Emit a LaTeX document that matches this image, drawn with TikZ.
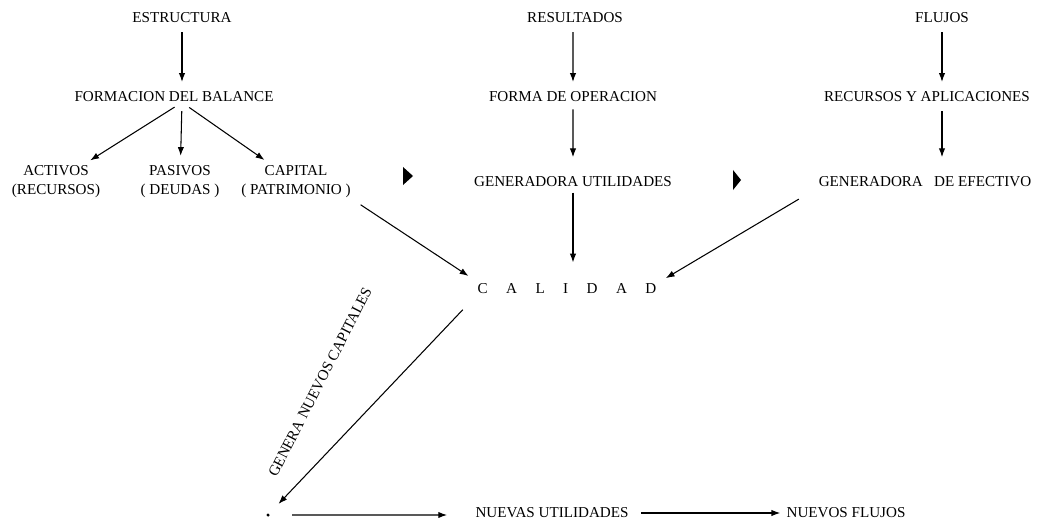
\documentclass[tikz,border=0pt]{standalone}
\usepackage{fontspec}
\setmainfont{Liberation Serif}
\usepackage{tikz}
\usetikzlibrary{positioning,arrows.meta}
\newcommand{\calsep}{\hspace{10.5pt}}

\begin{document}
\begin{tikzpicture}[scale=0.2,
  font=\fontsize{8.6}{10.8}\selectfont,
  flecha/.style={-{Latex[length=5pt,width=3.6pt]}, line width=0.6pt, shorten <=5pt, shorten >=5.5pt},
  marca/.style={fill=black}]
\tikzstyle{every node}+=[inner sep=0pt]
\useasboundingbox (0,0) rectangle (104.1,-52.2);
% columna estructura
\node (estructura) at (18.2,-1.8) {ESTRUCTURA};
\node (balance) at (17.4,-9.7) {FORMACION\ DEL\ BALANCE};
\node[align=center] (activos) at (5.6,-18.2) {ACTIVOS\\(RECURSOS)};
\node[align=center] (pasivos) at (18.0,-18.2) {PASIVOS\\( DEUDAS )};
\node[align=center] (capital) at (29.6,-18.2) {CAPITAL\\( PATRIMONIO )};
% columna resultados
\node (resultados) at (57.5,-1.8) {RESULTADOS};
\node (operacion) at (57.3,-9.7) {FORMA\ DE\ OPERACION};
\node (utilidades) at (57.3,-18.2) {GENERADORA\ UTILIDADES};
% columna flujos
\node (flujos) at (94.2,-1.8) {FLUJOS};
\node (aplicaciones) at (92.7,-9.7) {RECURSOS\ Y\ APLICACIONES};
\node (efectivo) at (92.5,-18.2) {GENERADORA\ \ \ DE\ EFECTIVO};
% centro y abajo
\node (calidad) at (56.7,-28.9) {C\calsep A\calsep L\calsep I\calsep D\calsep A\calsep D};
\node[circle, fill=black, inner sep=0.7pt] (punto) at (26.8,-51.5) {};
\node (nuevasutil) at (55.2,-51.3) {NUEVAS\ UTILIDADES};
\node (nuevosflujos) at (84.6,-51.3) {NUEVOS\ FLUJOS};
\node[rotate=63] (genera) at (32.0,-38.2) {GENERA\ NUEVOS\ CAPITALES};
% marcas entre columnas
\fill[marca] (40.3,-16.7) -- (41.3,-17.6) -- (40.3,-18.5) -- cycle;
\fill[marca] (73.3,-17.0) -- (74.1,-18.0) -- (73.3,-19.0) -- cycle;
% flechas
\draw[flecha] (estructura.south) -- (estructura.south |- balance.north);
\draw[flecha] (balance.south -| estructura.south) -- (activos);
\draw[flecha] (balance.south -| estructura.south) -- (pasivos);
\draw[flecha] (balance.south -| estructura.south) -- (capital);
\draw[flecha] (resultados.south -| operacion) -- (operacion);
\draw[flecha, shorten <=4pt, shorten >=11pt] (operacion) -- (utilidades);
\draw[flecha] (flujos.south) -- (flujos.south |- aplicaciones.north);
\draw[flecha, shorten >=11pt] (aplicaciones.south -| flujos.south) -- (flujos.south |- efectivo.north);
\draw[flecha, shorten <=6.5pt, shorten >=6pt] (capital.south east) -- ([yshift=5pt]calidad.north west);
\draw[flecha, shorten <=3pt, shorten >=12pt] (utilidades.south) -- (utilidades.south |- calidad.north);
\draw[flecha, shorten <=13pt, shorten >=6pt] (efectivo.south west) -- (calidad.north east);
\draw[flecha, shorten <=12pt, shorten >=7.5pt] (calidad.south west) -- (punto);
\draw[flecha, shorten <=12.5pt, shorten >=16pt] (punto) -- (punto -| nuevasutil.west);
\draw[flecha, shorten <=7pt, shorten >=3.4pt] (nuevasutil.east) -- (nuevosflujos.west);
\end{tikzpicture}
\end{document}
